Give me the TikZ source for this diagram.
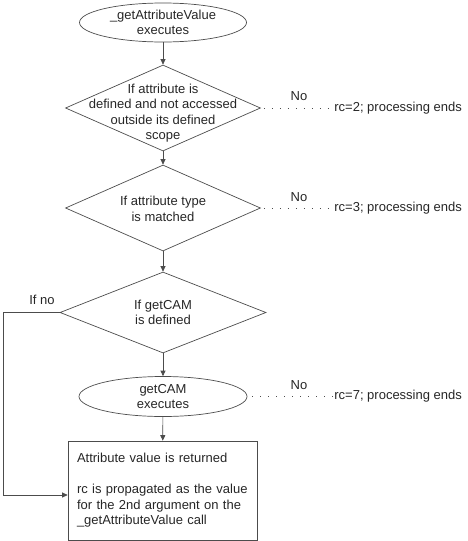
\documentclass[tikz,border=0pt]{standalone}
\usepackage{fontspec}
\setmainfont{Liberation Sans}
\usetikzlibrary{shapes.geometric,arrows.meta}
\definecolor{edge}{gray}{0.3}
\begin{document}
\begin{tikzpicture}[x=1pt,y=-1pt,line width=0.7pt,
  font=\fontsize{13}{15.5}\selectfont,text=black!85,
  term/.style={ellipse,draw=edge,inner sep=0pt,align=center},
  decide/.style={diamond,draw=edge,inner sep=0pt},
  result/.style={rectangle,draw=edge,inner xsep=9pt,inner ysep=0pt,align=left},
  flow/.style={draw=edge,-{Triangle[length=5.5pt,width=5pt]}},
  dots/.style={draw=edge,line width=1pt,dash pattern=on 1pt off 7pt},
  endtxt/.style={anchor=west,inner sep=1pt}]
 \useasboundingbox (0,0) rectangle (467,541);
 \node[term,minimum width=167pt,minimum height=39pt] (start) at (163,22.5)
    {\_getAttributeValue\\executes};
 \node[decide,minimum width=195pt,minimum height=86pt] (scope) at (163,108) {};
 \node[align=center] at ([yshift=-5pt]scope.center)
    {If attribute is\\defined and not accessed\\outside its defined\\scope};
 \node[decide,minimum width=195pt,minimum height=86pt] (type) at (163,208) {};
 \node[align=center] at ([yshift=-1pt]type.center) {If attribute type\\is matched};
 \node[decide,minimum width=206pt,minimum height=81pt] (cam) at (163,312.5) {};
 \node[align=center] at (cam.center) {If getCAM\\is defined};
 \node[term,minimum width=168pt,minimum height=40pt] (camrun) at (163,396.5)
    {getCAM\\executes};
 \node[result,text width=171pt,minimum height=99pt] (ret) at (162.5,490.5)
    {Attribute value is returned\\[15.5pt]rc is propagated as the value\\for the 2nd argument on the\\\_getAttributeValue call};
 \node[endtxt] (rc2) at (333,108) {rc=2; processing ends};
 \node[endtxt] (rc3) at (333,208) {rc=3; processing ends};
 \node[endtxt] (rc7) at (333,396.5) {rc=7; processing ends};
 \node (no2) at (299,96) {No};
 \node (no3) at (299,197) {No};
 \node (no7) at (299,385) {No};
 \node (ifno) at (42,300) {If no};
 \coordinate (bend) at (3,312.5);
 \draw[flow] (start) -- (scope);
 \draw[flow] (scope) -- (type);
 \draw[flow] (type) -- (cam);
 \draw[flow] (cam) -- (camrun);
 \draw[flow] (camrun) -- (ret);
 \draw[flow] (cam.west) -- (bend) |- ([yshift=-4.5pt]ret.west);
 \draw[dots] ([xshift=3pt]scope.east) -- (rc2.west);
 \draw[dots] ([xshift=3pt]type.east) -- (rc3.west);
 \draw[dots] ([xshift=5pt]camrun.east) -- (rc7.west);
\end{tikzpicture}
\end{document}
